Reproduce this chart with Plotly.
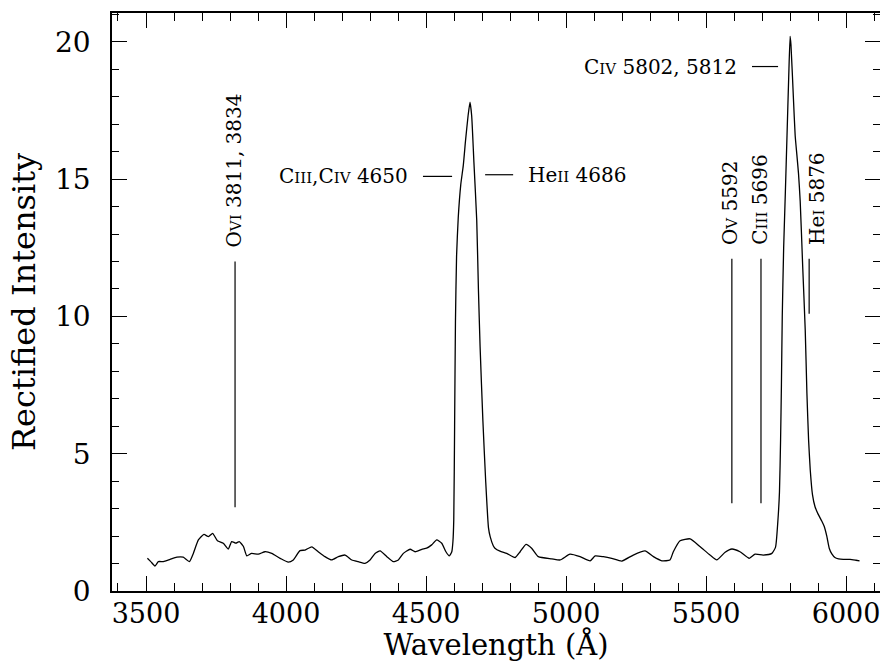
import plotly.graph_objects as go

# ---- spectrum ----
wavelength = [3505, 3517, 3532, 3544, 3562, 3586, 3610, 3633, 3655, 3669, 3687, 3707, 3723, 3738,
              3755, 3776, 3794, 3806, 3821, 3833, 3848, 3860, 3877, 3901, 3925, 3949, 3979, 4008,
              4026, 4050, 4068, 4092, 4115, 4139, 4163, 4187, 4211, 4235, 4258, 4282, 4300, 4318,
              4336, 4360, 4383, 4401, 4419, 4443, 4461, 4485, 4502, 4520, 4538, 4556, 4571, 4583,
              4592, 4596, 4599, 4602, 4605, 4609, 4615, 4624, 4633, 4641, 4650, 4657, 4663, 4671,
              4681, 4687, 4693, 4703, 4713, 4723, 4729, 4740, 4746, 4764, 4788, 4818, 4836, 4857,
              4877, 4901, 4949, 4979, 5014, 5050, 5086, 5104, 5133, 5163, 5199, 5240, 5282, 5312,
              5342, 5371, 5383, 5407, 5443, 5479, 5514, 5538, 5568, 5592, 5621, 5654, 5675, 5704,
              5735, 5748, 5756, 5762, 5766, 5769, 5772, 5777, 5783, 5789, 5795, 5800, 5803, 5812,
              5818, 5824, 5830, 5836, 5845, 5854, 5860, 5866, 5872, 5880, 5889, 5900, 5913, 5922,
              5931, 5940, 5949, 5960, 5973, 5990, 6014, 6035, 6048]
intensity = [1.19, 1.07, 0.91, 1.07, 1.07, 1.15, 1.23, 1.23, 1.07, 1.37, 1.86, 2.06, 1.98, 2.10,
             1.83, 1.74, 1.53, 1.80, 1.74, 1.80, 1.62, 1.28, 1.37, 1.34, 1.43, 1.37, 1.19, 1.05,
             1.13, 1.47, 1.49, 1.61, 1.43, 1.25, 1.13, 1.25, 1.31, 1.13, 1.07, 1.01, 1.13, 1.37,
             1.46, 1.25, 1.07, 1.13, 1.37, 1.52, 1.43, 1.52, 1.56, 1.68, 1.86, 1.74, 1.43, 1.28,
             1.43, 1.8, 2.6, 6.0, 9.8, 12.2, 13.6, 14.8, 15.5, 16.4, 17.3, 17.8, 17.3, 15.6,
             13.5, 11.0, 8.9, 6.2, 4.0, 2.3, 1.98, 1.65, 1.56, 1.45, 1.37, 1.22, 1.43, 1.70,
             1.56, 1.25, 1.17, 1.13, 1.34, 1.25, 1.10, 1.28, 1.25, 1.19, 1.09, 1.31, 1.46, 1.25,
             1.10, 1.13, 1.43, 1.83, 1.90, 1.61, 1.31, 1.13, 1.41, 1.53, 1.43, 1.19, 1.34, 1.31,
             1.37, 1.6, 2.5, 3.6, 5.5, 7.5, 10.0, 12.5, 14.5, 16.6, 18.7, 20.2, 19.9, 17.9,
             16.6, 15.9, 15.2, 14.2, 11.8, 9.5, 7.2, 5.5, 4.4, 3.5, 3.07, 2.8, 2.55, 2.35,
             2.0, 1.55, 1.35, 1.22, 1.17, 1.15, 1.15, 1.12, 1.10]

# ---- axis ticks ----
x_tick_vals = [3500, 4000, 4500, 5000, 5500, 6000]
x_tick_text = ["3500", "4000", "4500", "5000", "5500", "6000"]
y_tick_vals = [0, 5, 10, 15, 20]
y_tick_text = ["0", "5", "10", "15", "20"]

# ---- vertically labelled lines ----
vline_names = ["O<span style='font-size:15px'>VI</span> 3811, 3834",
               "O<span style='font-size:15px'>V</span> 5592",
               "C<span style='font-size:15px'>III</span> 5696",
               "He<span style='font-size:15px'>I</span> 5876"]
vline_wave = [3818, 5592, 5696, 5868]
vline_low = [3.05, 3.2, 3.2, 10.1]
vline_high = [12.0, 12.1, 12.1, 12.1]
vline_text_shift = [-2, -2, -1, 8]

# ---- horizontally labelled lines ----
hline_names = ["C<span style='font-size:15px'>III</span>,C<span style='font-size:15px'>IV</span> 4650",
               "He<span style='font-size:15px'>II</span> 4686",
               "C<span style='font-size:15px'>IV</span> 5802, 5812"]
hline_x0 = [4489, 4711, 5664]
hline_x1 = [4593, 4811, 5757]
hline_y = [15.1, 15.16, 19.1]
hline_side = ["left", "right", "left"]

FONT = "DejaVu Serif"

fig = go.Figure()
fig.add_trace(go.Scatter(x=wavelength, y=intensity, mode="lines",
                         line=dict(color="black", width=1.3, shape="spline", smoothing=0.5),
                         showlegend=False, hoverinfo="skip"))
# invisible trace to activate right-side tick axis
fig.add_trace(go.Scatter(x=[wavelength[0]], y=[intensity[0]], yaxis="y2", mode="markers",
                         marker=dict(opacity=0), showlegend=False, hoverinfo="skip"))

for name, w, lo, hi, sh in zip(vline_names, vline_wave, vline_low, vline_high, vline_text_shift):
    fig.add_shape(type="line", x0=w, x1=w, y0=lo, y1=hi, xref="x", yref="y",
                  line=dict(color="black", width=1.2))
    fig.add_annotation(x=w, y=hi, xref="x", yref="y", text=name, showarrow=False,
                       textangle=-90, xanchor="center", yanchor="bottom", yshift=12, xshift=sh,
                       font=dict(family=FONT, size=20, color="black"))

for name, x0, x1, y, side in zip(hline_names, hline_x0, hline_x1, hline_y, hline_side):
    fig.add_shape(type="line", x0=x0, x1=x1, y0=y, y1=y, xref="x", yref="y",
                  line=dict(color="black", width=1.2))
    if side == "left":
        fig.add_annotation(x=x0, y=y, xref="x", yref="y", text=name, showarrow=False,
                           xanchor="right", yanchor="middle", xshift=-13,
                           font=dict(family=FONT, size=20, color="black"))
    else:
        fig.add_annotation(x=x1, y=y, xref="x", yref="y", text=name, showarrow=False,
                           xanchor="left", yanchor="middle", xshift=13,
                           font=dict(family=FONT, size=20, color="black"))

fig.update_layout(
    width=880, height=662,
    margin=dict(l=112, r=0, t=13, b=71, pad=0),
    paper_bgcolor="white", plot_bgcolor="white",
    font=dict(family=FONT, color="black"),
    xaxis=dict(range=[3378.6, 6121], tickmode="array", tickvals=x_tick_vals, ticktext=x_tick_text,
               ticks="inside", ticklen=15, tickwidth=1.2, tickcolor="black",
               minor=dict(dtick=100, tick0=3500, ticks="inside", ticklen=8, tickwidth=1.1, tickcolor="black"),
               showline=True, linecolor="black", linewidth=1.5, mirror="ticks",
               showgrid=False, zeroline=False, automargin=False, ticklabeloverflow="allow",
               tickfont=dict(family=FONT, size=27, color="black"), ticklabelstandoff=-2,
               title=dict(text="Wavelength (Å)", font=dict(family=FONT, size=29, color="black"), standoff=10)),
    yaxis=dict(range=[0, 21.05], tickmode="array", tickvals=y_tick_vals, ticktext=y_tick_text,
               ticks="inside", ticklen=15, tickwidth=1.2, tickcolor="black",
               minor=dict(dtick=1, tick0=0, ticks="inside", ticklen=7, tickwidth=1.1, tickcolor="black"),
               showline=True, linecolor="black", linewidth=1.5, mirror=False,
               showgrid=False, zeroline=False, automargin=False,
               tickfont=dict(family=FONT, size=28, color="black"), ticklabelstandoff=14,
               title=dict(text="Rectified Intensity", font=dict(family=FONT, size=32, color="black"), standoff=10)),
    yaxis2=dict(range=[0, 21.05], overlaying="y", side="right", tickmode="array", tickvals=y_tick_vals,
                ticks="inside", ticklen=15, tickwidth=1.2, tickcolor="black",
                minor=dict(dtick=1, tick0=0, ticks="inside", ticklen=7, tickwidth=1.1, tickcolor="black"),
                showticklabels=False, showline=False, showgrid=False, zeroline=False, automargin=False),
)

fig.write_html("out.html")
